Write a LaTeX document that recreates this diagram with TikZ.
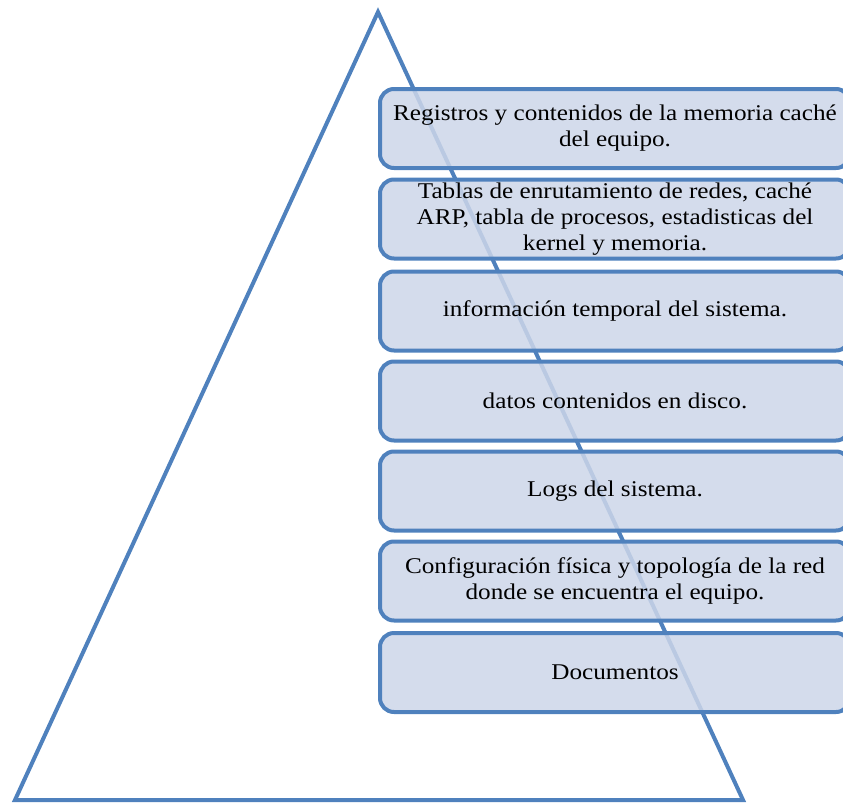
\documentclass[tikz,border=0pt]{standalone}
\usepackage{fontspec}
\setmainfont{Liberation Serif}[FakeStretch=1.12]
\definecolor{edgeblue}{RGB}{79,129,189}
\definecolor{boxfill}{RGB}{205,214,233}
\tikzset{
  layer/.style={draw=edgeblue, line width=4pt, rounded corners=14pt,
    fill=boxfill, fill opacity=0.85, text opacity=1,
    minimum width=470pt, minimum height=79pt, inner sep=0pt,
    align=center, font=\fontsize{22.5}{26}\selectfont},
  outline/.style={draw=edgeblue, line width=4pt, line join=miter}
}
\begin{document}
\begin{tikzpicture}[x=1pt, y=-1pt]
  \useasboundingbox (0,0) rectangle (843,803);
  \clip (0,0) rectangle (843,803);
  % pyramid outline
  \coordinate (apex) at (378,12);
  \coordinate (bl) at (15,800);
  \coordinate (br) at (743,800);
  \draw[outline] (apex) -- (bl) -- (br) -- cycle;
  % layers, most volatile on top
  \node[layer] (l1) at (615,128.5) {Registros y contenidos de la memoria caché\\del equipo.};
  \node[layer] (l2) at (615,219) {Tablas de enrutamiento de redes, caché\\ARP, tabla de procesos, estadisticas del\\kernel y memoria.};
  \node[layer] (l3) at (615,311) {información temporal del sistema.};
  \node[layer] (l4) at (615,401) {datos contenidos en disco.};
  \node[layer] (l5) at (615,491) {Logs del sistema.};
  \node[layer] (l6) at (615,581) {Configuración física y topología de la red\\donde se encuentra el equipo.};
  \node[layer] (l7) at (615,672.5) {Documentos};
\end{tikzpicture}
\end{document}
